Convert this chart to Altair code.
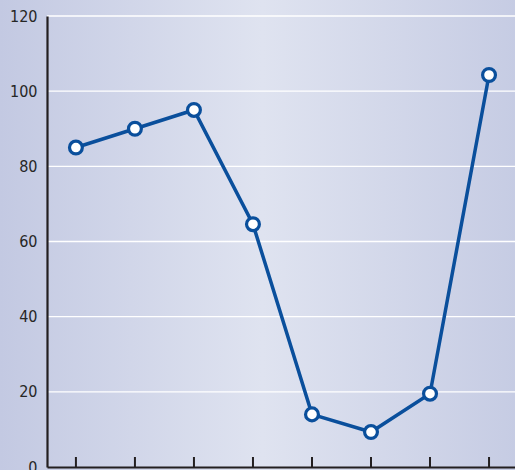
import altair as alt
import pandas as pd

# Series values, one per period
periods = [0, 1, 2, 3, 4, 5, 6, 7]
values = [85, 90, 95, 64.6, 14, 9.3, 19.5, 104.3]

# Y axis ticks and horizontal grid positions
y_ticks = [0, 20, 40, 60, 80, 100, 120]
grid_levels = [20, 40, 60, 80, 100, 120]

W, H = 468, 451
LINE_BLUE = "#0a4f9c"
AXIS_DARK = "#231f20"

series = pd.DataFrame({"period": periods, "value": values})
grid = pd.DataFrame({"value": grid_levels})
ticks = pd.DataFrame({"period": periods})

x_scale = alt.Scale(domain=[-0.49, 7.44], nice=False, zero=False)
y_scale = alt.Scale(domain=[0, 120], nice=False)

x_axis = alt.Axis(title=None, labels=False, ticks=False, grid=False,
                  domainColor=AXIS_DARK, domainWidth=2.2, zindex=2)
y_axis = alt.Axis(title=None, values=y_ticks, ticks=False, tickSize=0, grid=False,
                  domainColor=AXIS_DARK, domainWidth=2.2, zindex=2,
                  labelFont="'Liberation Sans Narrow', 'DejaVu Sans Condensed', sans-serif",
                  labelFontSize=16,
                  labelColor="#262626", labelPadding=10)

X = alt.X("period:Q", scale=x_scale, axis=x_axis)
Y = alt.Y("value:Q", scale=y_scale, axis=y_axis)

# soft horizontal gradient behind the whole chart, including the label gutter
backdrop = alt.Chart(pd.DataFrame({"a": [0]})).mark_rect(
    color=alt.Gradient(
        gradient="linear",
        x1=0, x2=1, y1=0, y2=0,
        stops=[
            alt.GradientStop(offset=0, color="#c3c9e2"),
            alt.GradientStop(offset=0.5, color="#dfe3f0"),
            alt.GradientStop(offset=1, color="#c5cbe3"),
        ],
    )
).encode(
    x=alt.value(-47), x2=alt.value(W + 10),
    y=alt.value(-20), y2=alt.value(H + 10),
)

gridlines = alt.Chart(grid).mark_rule(color="white", strokeWidth=1.3).encode(
    y=Y, x=alt.value(0), x2=alt.value(W),
)

tick_marks = alt.Chart(ticks).mark_rule(color=AXIS_DARK, strokeWidth=2).encode(
    x=X, y=alt.value(H - 10), y2=alt.value(H),
)

line = alt.Chart(series).mark_line(color=LINE_BLUE, strokeWidth=3.5).encode(x=X, y=Y)

points = alt.Chart(series).mark_point(
    filled=False, shape="circle", size=165, fill="white", fillOpacity=1,
    stroke=LINE_BLUE, strokeWidth=3.2, opacity=1,
).encode(x=X, y=Y)

chart = alt.layer(backdrop, gridlines, tick_marks, line, points).properties(
    width=W, height=H,
    padding={"left": 47, "top": 16, "right": 0, "bottom": 3},
    autosize=alt.AutoSizeParams(type="none"),
).configure_view(stroke=None)

chart.save("out.html", embed_options={"renderer": "svg", "actions": False})
